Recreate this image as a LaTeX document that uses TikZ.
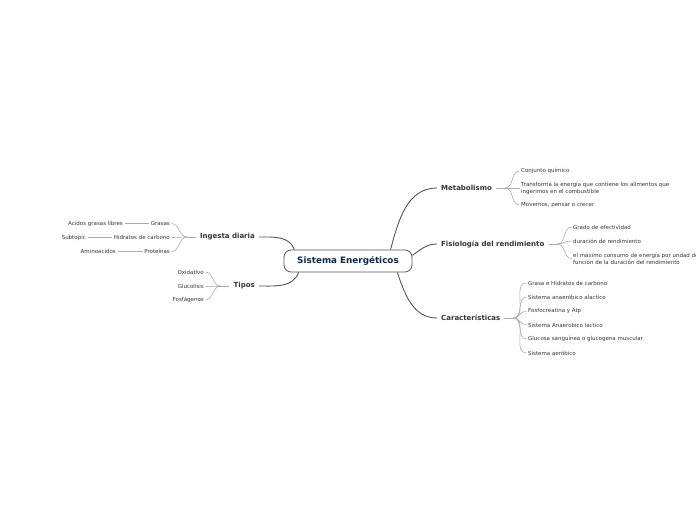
\documentclass[tikz,border=0pt]{standalone}
\usepackage{fontspec}
\setmainfont{DejaVu Sans}
\usetikzlibrary{positioning}
\definecolor{txt}{HTML}{333333}
\definecolor{navy}{HTML}{0B2A4A}
\definecolor{branchgray}{HTML}{555555}
\definecolor{subgray}{HTML}{ABABAB}

\begin{document}
\begin{tikzpicture}[x=1pt,y=1pt,
  root/.style={draw=branchgray,line width=0.8pt,rounded corners=7pt,fill=white,minimum width=128pt,minimum height=22pt,inner sep=0pt,font=\fontsize{8.8}{10}\selectfont\bfseries,text=navy},
  topic/.style={inner xsep=4pt,inner ysep=1.5pt,font=\fontsize{7}{8}\selectfont\bfseries,text=txt},
  leaf/.style={inner sep=1.5pt,font=\fontsize{5.5}{7}\selectfont,text=txt,align=left},
  branch/.style={draw=branchgray,line width=0.9pt},
  twig/.style={draw=subgray,line width=0.6pt}]
\useasboundingbox (0,1) rectangle (696,521);
\node[root] (root) at (348,260) {Sistema Energéticos};

\node[topic,anchor=west] (meta) at (437,333) {Metabolismo};
\node[topic,anchor=west] (fisio) at (437,277) {Fisiología del rendimiento};
\node[topic,anchor=west] (carac) at (437,203) {Características};
\node[topic,anchor=east] (ingesta) at (259,284) {Ingesta diaria};
\node[topic,anchor=east] (tipos) at (259,235) {Tipos};

\draw[branch] (root.15) to[out=75,in=180] (meta.west);
\draw[branch] (root.5) to[out=35,in=180] (fisio.west);
\draw[branch] (root.-13) to[out=-72,in=180] (carac.west);
\draw[branch] (root.168) to[out=110,in=0] (ingesta.east);
\draw[branch] (root.193) to[out=250,in=0] (tipos.east);

\node[leaf,anchor=west] (m1) at (519.5,350) {Conjunto químico};
\node[leaf,anchor=west] (m2) at (519.5,333) {Transforma la energía que contiene los alimentos que\\ingerimos en el combustible};
\node[leaf,anchor=west] (m3) at (519.5,316) {Movernos, pensar o crecer};
\draw[twig] (meta.east) -- ++(9,0) coordinate (metahub);
\draw[twig] (metahub) to[out=0,in=180] (m1.west);
\draw[twig] (metahub) -- (m2.west);
\draw[twig] (metahub) to[out=0,in=180] (m3.west);

\node[leaf,anchor=west] (f1) at (571.5,294) {Grado de efectividad};
\node[leaf,anchor=west] (f2) at (571.5,280) {duración de rendimiento};
\node[leaf,anchor=west] (f3) at (571.5,262.5) {el máximo consumo de energía por undad de\\función de la duración del rendimiento};
\draw[twig] (fisio.east) -- ++(9,0) coordinate (fisiohub);
\draw[twig] (fisiohub) to[out=0,in=180] (f1.west);
\draw[twig] (fisiohub) to[out=0,in=180] (f2.west);
\draw[twig] (fisiohub) to[out=0,in=180] (f3.west);

\node[leaf,anchor=west] (c1) at (526.5,238) {Grasa e Hidratos de carbono};
\node[leaf,anchor=west] (c2) at (526.5,224) {Sistema anaeróbico alactico};
\node[leaf,anchor=west] (c3) at (526.5,210) {Fosfocreatina y Atp};
\node[leaf,anchor=west] (c4) at (526.5,196) {Sistema Anaerobico lactico};
\node[leaf,anchor=west] (c5) at (526.5,182) {Glucosa sanguínea o glucogena muscular};
\node[leaf,anchor=west] (c6) at (526.5,168) {Sistema aeróbico};
\draw[twig] (carac.east) -- ++(9,0) coordinate (carachub);
\draw[twig] (carachub) to[out=0,in=180] (c1.west);
\draw[twig] (carachub) to[out=0,in=180] (c2.west);
\draw[twig] (carachub) to[out=0,in=180] (c3.west);
\draw[twig] (carachub) to[out=0,in=180] (c4.west);
\draw[twig] (carachub) to[out=0,in=180] (c5.west);
\draw[twig] (carachub) to[out=0,in=180] (c6.west);

\node[leaf,anchor=east] (i1) at (171.5,297.5) {Grasas};
\node[leaf,anchor=east] (i2) at (171.5,283.5) {Hidratos de carbono};
\node[leaf,anchor=east] (i3) at (171.5,269.5) {Proteínas};
\draw[twig] (ingesta.west) -- ++(-9,0) coordinate (ingestahub);
\draw[twig] (ingestahub) to[out=180,in=0] (i1.east);
\draw[twig] (ingestahub) to[out=180,in=0] (i2.east);
\draw[twig] (ingestahub) to[out=180,in=0] (i3.east);
\node[leaf,anchor=east] (g1) at (124.5,297.5) {Acidos grasas libres};
\node[leaf,anchor=east] (g2) at (87.5,283.5) {Subtopic};
\node[leaf,anchor=east] (g3) at (117.5,269.5) {Aminoacidos};
\draw[twig] (g1.east) -- (i1.west);
\draw[twig] (g2.east) -- (i2.west);
\draw[twig] (g3.east) -- (i3.west);

\node[leaf,anchor=east] (t1) at (205.5,249) {Oxidativo};
\node[leaf,anchor=east] (t2) at (205.5,235) {Glucolisis};
\node[leaf,anchor=east] (t3) at (205.5,221) {Fosfágenos};
\draw[twig] (tipos.west) -- ++(-9,0) coordinate (tiposhub);
\draw[twig] (tiposhub) to[out=180,in=0] (t1.east);
\draw[twig] (tiposhub) to[out=180,in=0] (t2.east);
\draw[twig] (tiposhub) to[out=180,in=0] (t3.east);
\end{tikzpicture}
\end{document}
